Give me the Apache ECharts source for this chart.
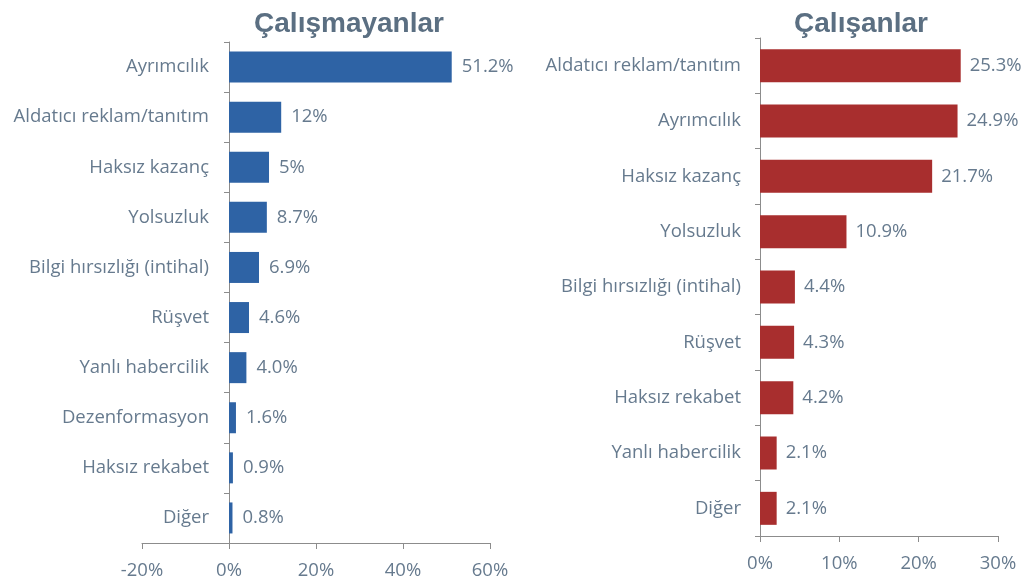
<!DOCTYPE html>
<html>
<head>
<meta charset="utf-8">
<script src="https://cdn.jsdelivr.net/npm/echarts@6/dist/echarts.min.js"></script>
<style>
  html, body { margin: 0; padding: 0; background: #fff; }
  #chart { width: 1027px; height: 586px; }
</style>
</head>
<body>
<div id="chart"></div>
<script>
// Çalışmayanlar (left panel), top to bottom
const leftCategories = ['Ayrımcılık', 'Aldatıcı reklam/tanıtım', 'Haksız kazanç', 'Yolsuzluk', 'Bilgi hırsızlığı (intihal)', 'Rüşvet', 'Yanlı habercilik', 'Dezenformasyon', 'Haksız rekabet', 'Diğer'];
const leftValues = [51.2, 12, 9.2, 8.7, 6.9, 4.6, 4.0, 1.6, 0.9, 0.8];
const leftLabels = ['51.2%', '12%', '5%', '8.7%', '6.9%', '4.6%', '4.0%', '1.6%', '0.9%', '0.8%'];
const leftTicks = [-20, 0, 20, 40, 60];

// Çalışanlar (right panel), top to bottom
const rightCategories = ['Aldatıcı reklam/tanıtım', 'Ayrımcılık', 'Haksız kazanç', 'Yolsuzluk', 'Bilgi hırsızlığı (intihal)', 'Rüşvet', 'Haksız rekabet', 'Yanlı habercilik', 'Diğer'];
const rightValues = [25.3, 24.9, 21.7, 10.9, 4.4, 4.3, 4.2, 2.1, 2.1];
const rightLabels = ['25.3%', '24.9%', '21.7%', '10.9%', '4.4%', '4.3%', '4.2%', '2.1%', '2.1%'];
const rightTicks = [0, 10, 20, 30];

const textColor = '#667a8e';
const axisColor = '#8c8c8c';
const font = 'Open Sans';
const fs = 18.5;

const chart = echarts.init(document.getElementById('chart'));

const valueAxis = (idx, ticks) => ({
    type: 'value',
    gridIndex: idx,
    min: ticks[0],
    max: ticks[ticks.length - 1],
    interval: ticks[1] - ticks[0],
    splitLine: { show: false },
    axisLine: { show: true, onZero: false, lineStyle: { color: axisColor, width: 1 } },
    axisTick: { show: true, length: 6, lineStyle: { color: axisColor } },
    axisLabel: { color: textColor, fontFamily: font, fontSize: fs, margin: 18, formatter: '{value}%' }
});

// the left panel's axis line sits on 0 while the grid starts at -20,
// so the labels are pulled in with a negative margin
const catAxis = (idx, cats, margin) => ({
    type: 'category',
    gridIndex: idx,
    data: cats,
    inverse: true,
    axisLine: { show: true, onZero: true, lineStyle: { color: axisColor, width: 1 } },
    axisTick: { show: true, length: 5, lineStyle: { color: axisColor } },
    axisLabel: { color: textColor, fontFamily: font, fontSize: fs, margin: margin }
});

chart.setOption({
    animation: false,
    title: [
        { text: 'Çalışmayanlar', left: 344, top: 5, textAlign: 'center',
          textStyle: { fontFamily: 'Liberation Sans', fontWeight: 'bold', fontSize: 28, color: '#5b6f82' } },
        { text: 'Çalışanlar', left: 856, top: 5, textAlign: 'center',
          textStyle: { fontFamily: 'Liberation Sans', fontWeight: 'bold', fontSize: 28, color: '#5b6f82' } }
    ],
    grid: [
        { left: 142, right: 537, top: 42, bottom: 43, outerBoundsMode: 'none', containLabel: false },
        { left: 760, right: 29, top: 38, bottom: 50, outerBoundsMode: 'none', containLabel: false }
    ],
    xAxis: [valueAxis(0, leftTicks), valueAxis(1, rightTicks)],
    yAxis: [catAxis(0, leftCategories, -67), catAxis(1, rightCategories, 19)],
    series: [
        {
            type: 'bar',
            xAxisIndex: 0,
            yAxisIndex: 0,
            data: leftValues,
            barWidth: 31,
            itemStyle: { color: '#2e63a5' },
            label: {
                show: true, position: 'right', distance: 10,
                color: textColor, fontFamily: font, fontSize: fs,
                formatter: p => leftLabels[p.dataIndex]
            }
        },
        {
            type: 'bar',
            xAxisIndex: 1,
            yAxisIndex: 1,
            data: rightValues,
            barWidth: 33,
            itemStyle: { color: '#a82e2e' },
            label: {
                show: true, position: 'right', distance: 9,
                color: textColor, fontFamily: font, fontSize: fs,
                formatter: p => rightLabels[p.dataIndex]
            }
        }
    ]
});
</script>
</body>
</html>
